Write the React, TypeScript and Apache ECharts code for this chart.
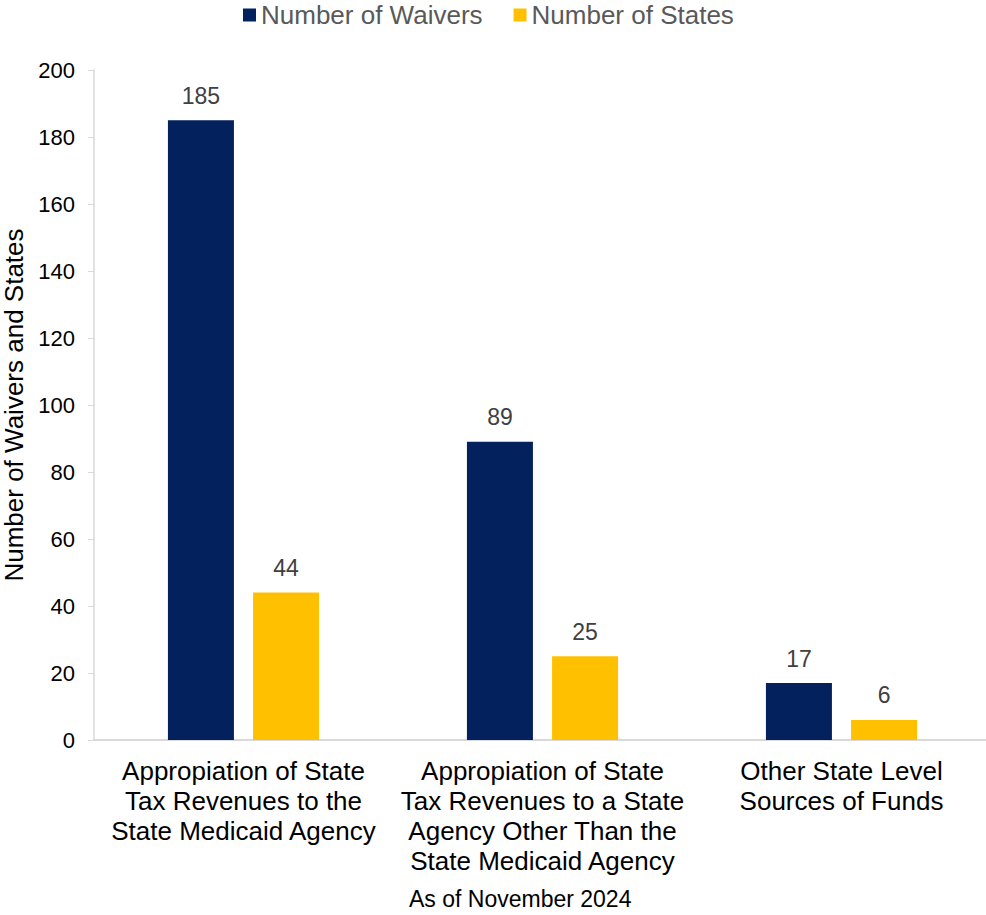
import React, { useEffect, useRef } from "react";
import * as echarts from "echarts";

const categories = [
  "Appropiation of State\nTax Revenues to the\nState Medicaid Agency",
  "Appropiation of State\nTax Revenues to a State\nAgency Other Than the\nState Medicaid Agency",
  "Other State Level\nSources of Funds",
];
const waivers = [185, 89, 17];
const states = [44, 25, 6];
const yTicks = { min: 0, max: 200, interval: 20 };

const FONT = "'Liberation Sans', Arial, sans-serif";

export default function App() {
  const ref = useRef<HTMLDivElement>(null);
  useEffect(() => {
    document.body.style.margin = "0";
    if (!ref.current) return;
    const chart = echarts.init(ref.current, undefined, { renderer: "svg" });
    const labelStyle = {
      show: true,
      position: "top",
      distance: 13,
      color: "#404040",
      fontSize: 23,
      fontFamily: FONT,
    };
    chart.setOption({
      animation: false,
      textStyle: { fontFamily: FONT },
      legend: {
        top: 2,
        left: 243,
        padding: 0,
        itemWidth: 13,
        itemHeight: 13,
        itemGap: 31,
        icon: "rect",
        textStyle: { color: "#595959", fontSize: 26, fontFamily: FONT },
        data: ["Number of Waivers", "Number of States"],
      },
      grid: {
        left: 94,
        right: -5,
        top: 70,
        bottom: 175,
        outerBoundsMode: "none",
        containLabel: false,
      },
      xAxis: {
        type: "category",
        data: categories,
        axisLine: { lineStyle: { color: "#d9d9d9", width: 2 } },
        axisTick: { show: false },
        axisLabel: {
          interval: 0,
          color: "#000",
          fontSize: 26,
          lineHeight: 30,
          margin: 16,
          fontFamily: FONT,
        },
      },
      yAxis: {
        type: "value",
        min: yTicks.min,
        max: yTicks.max,
        interval: yTicks.interval,
        name: "Number of Waivers and States",
        nameLocation: "middle",
        nameGap: 65,
        nameTextStyle: { color: "#000", fontSize: 26, fontFamily: FONT },
        axisLine: { show: true, lineStyle: { color: "#d9d9d9", width: 1.5 } },
        axisTick: { show: true, length: 6, lineStyle: { color: "#d9d9d9" } },
        splitLine: { show: false },
        axisLabel: { color: "#000", fontSize: 22, margin: 19, fontFamily: FONT },
      },
      series: [
        {
          name: "Number of Waivers",
          type: "bar",
          data: waivers,
          barWidth: 66,
          barGap: "29%",
          itemStyle: { color: "#03215d" },
          label: labelStyle,
        },
        {
          name: "Number of States",
          type: "bar",
          data: states,
          barWidth: 66,
          itemStyle: { color: "#ffc000" },
          label: labelStyle,
        },
      ],
      graphic: [
        {
          type: "text",
          left: 409,
          top: 887,
          style: {
            text: "As of November 2024",
            fill: "#000",
            fontSize: 23,
            fontFamily: FONT,
          },
        },
      ],
    });
    return () => chart.dispose();
  }, []);
  return <div ref={ref} style={{ width: 986, height: 915 }} />;
}
